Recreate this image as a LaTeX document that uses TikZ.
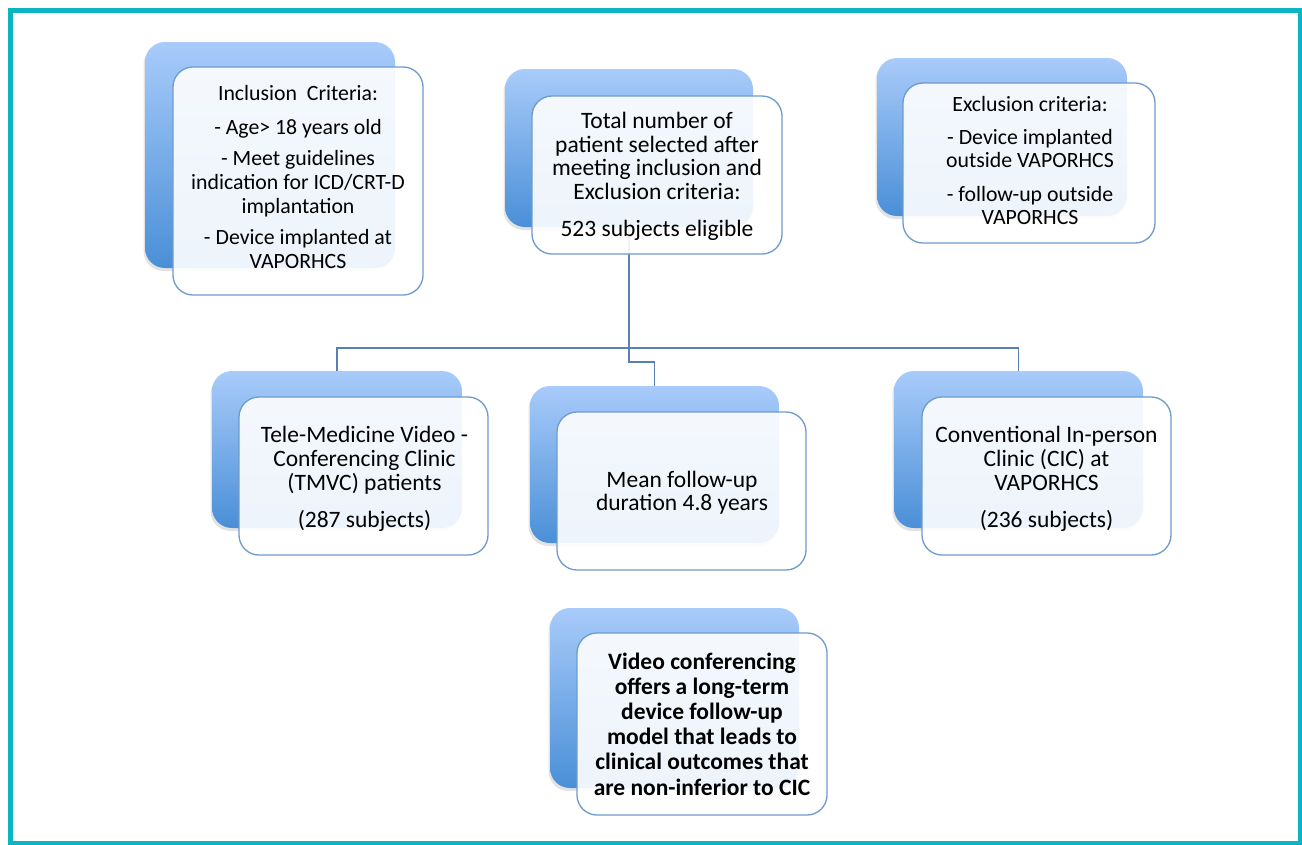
\documentclass[tikz,border=0pt]{standalone}
\usepackage{fontspec}
\setmainfont{Carlito}
\usetikzlibrary{shadows}
\definecolor{frameteal}{RGB}{10,182,194}
\definecolor{backtop}{RGB}{168,203,250}
\definecolor{backbot}{RGB}{74,143,215}
\definecolor{frontline}{RGB}{110,155,205}
\definecolor{connblue}{RGB}{88,128,182}
\newcommand\txtlines[1]{\begin{tabular}[t]{@{}c@{}}#1\end{tabular}}
\tikzset{
  backbox/.style={rectangle, rounded corners=20pt, inner sep=0pt, outer sep=0pt,
    top color=backtop, bottom color=backbot, draw=none,
    drop shadow={shadow xshift=-1.5pt, shadow yshift=-3pt, opacity=0.22}},
  frontbox/.style={rectangle, rounded corners=20pt, inner sep=0pt, outer sep=0pt,
    draw=frontline, line width=1.3pt, fill=white, fill opacity=0.9},
  txt/.style={inner sep=0pt, anchor=base, text=black},
  conn/.style={draw=connblue, line width=1.4pt},
}
\begin{document}
\begin{tikzpicture}[x=1pt, y=-1pt]
\useasboundingbox (0,0) rectangle (1302,844);
\fill[white] (0,0) rectangle (1302,844);
\draw[frameteal, line width=5pt] (10.5,10.5) rectangle (1300.5,843.5);

% back boxes
\node[backbox, minimum width=250pt, minimum height=226pt] (incB) at (270,155) {};
\node[backbox, minimum width=248pt, minimum height=158pt] (totB) at (629,148) {};
\node[backbox, minimum width=250pt, minimum height=158pt] (excB) at (1002,137) {};
\node[backbox, minimum width=250pt, minimum height=157pt] (tmvcB) at (337,449.5) {};
\node[backbox, minimum width=249pt, minimum height=157pt] (meanB) at (654.5,464.5) {};
\node[backbox, minimum width=249pt, minimum height=157pt] (cicB) at (1018.5,449.5) {};
\node[backbox, minimum width=249pt, minimum height=180pt] (botB) at (674.5,698) {};

% connectors
\draw[conn] (totB.south) -- ++(0,135) -| (meanB.north);
\draw[conn] (tmvcB.north) -- ++(0,-23) -| (cicB.north);

% front boxes
\node[frontbox, minimum width=250pt, minimum height=228pt] (incF) at (298,181) {};
\node[frontbox, minimum width=250pt, minimum height=158pt] (totF) at (657,175) {};
\node[frontbox, minimum width=252pt, minimum height=160pt] (excF) at (1029,163) {};
\node[frontbox, minimum width=249pt, minimum height=158pt] (tmvcF) at (363.5,476) {};
\node[frontbox, minimum width=249pt, minimum height=158pt] (meanF) at (681.5,491) {};
\node[frontbox, minimum width=249pt, minimum height=158pt] (cicF) at (1046.5,476) {};
\node[frontbox, minimum width=250pt, minimum height=182pt] (botF) at (702,724) {};

% texts
\node[txt, font=\fontsize{21.8}{24}\selectfont] (incT) at (298,100.5) {\txtlines{Inclusion\ \ Criteria:\\[10pt]
 - Age> 18 years old\\[7pt]
 - Meet guidelines\\ indication for ICD/CRT-D\\ implantation\\[7pt]
 - Device implanted at\\ VAPORHCS}};
\node[txt, font=\fontsize{23.5}{23.7}\selectfont] (totT) at (657,128.5) {\txtlines{Total number of\\ patient selected after\\ meeting inclusion and\\ Exclusion criteria:\\[13.5pt] 523 subjects eligible}};
\node[txt, font=\fontsize{21.8}{23}\selectfont] (excT) at (1030,111.5) {\txtlines{Exclusion criteria:\\[10pt]
 - Device implanted\\ outside VAPORHCS\\[10.5pt]
 - follow-up outside\\ VAPORHCS}};
\node[txt, font=\fontsize{23.5}{24}\selectfont] (tmvcT) at (364.5,442) {\txtlines{Tele-Medicine Video -\\ Conferencing Clinic\\ (TMVC) patients\\[13pt] (287 subjects)}};
\node[txt, font=\fontsize{23.5}{23}\selectfont] (meanT) at (682,487) {\txtlines{Mean follow-up\\ duration 4.8 years}};
\node[txt, font=\fontsize{23.5}{24}\selectfont] (cicT) at (1046.5,442) {\txtlines{Conventional In-person\\ Clinic (CIC) at\\ VAPORHCS\\[13pt] (236 subjects)}};
\node[txt, font=\bfseries\fontsize{23.5}{25.2}\selectfont] (botT) at (702,669) {\txtlines{Video conferencing\\ offers a long-term\\ device follow-up\\ model that leads to\\ clinical outcomes that\\ are non-inferior to CIC}};
\end{tikzpicture}
\end{document}
